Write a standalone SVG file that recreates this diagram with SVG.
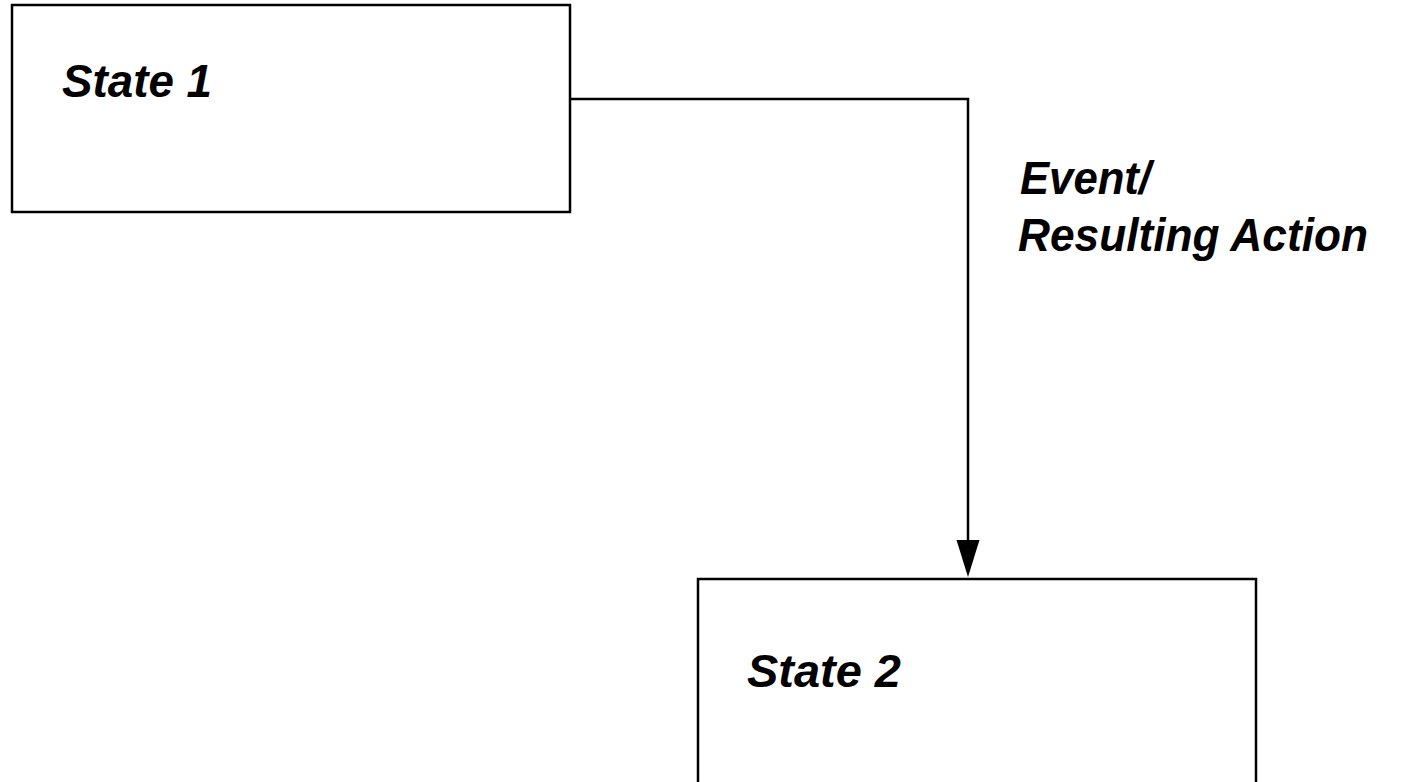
<svg xmlns="http://www.w3.org/2000/svg" width="1404" height="782" viewBox="0 0 1404 782">
<style>
.box{fill:#fff;stroke:#000;stroke-width:2.5}
.lbl{font-family:"Liberation Sans",Arial,sans-serif;font-weight:bold;font-style:italic;font-size:46px;fill:#000}
.conn{fill:none;stroke:#000;stroke-width:2.5}
</style>
<rect width="1404" height="782" fill="#fff"/>
<g id="state1">
<rect class="box" x="12" y="5" width="558" height="207"/>
<text class="lbl" x="62" y="97" textLength="150" lengthAdjust="spacingAndGlyphs">State 1</text>
</g>
<g id="state2">
<rect class="box" x="698" y="579" width="558" height="220"/>
<text class="lbl" x="747" y="687" textLength="154" lengthAdjust="spacingAndGlyphs">State 2</text>
</g>
<g id="connectors">
<path class="conn" d="M570,99 H968 V540"/>
<path d="M956.5,540 L979.5,540 L968,577 Z" fill="#000"/>
<text class="lbl" x="1020" y="194" textLength="131" lengthAdjust="spacingAndGlyphs">Event/</text>
<text class="lbl" x="1018" y="251" textLength="350" lengthAdjust="spacingAndGlyphs">Resulting Action</text>
</g>
</svg>
